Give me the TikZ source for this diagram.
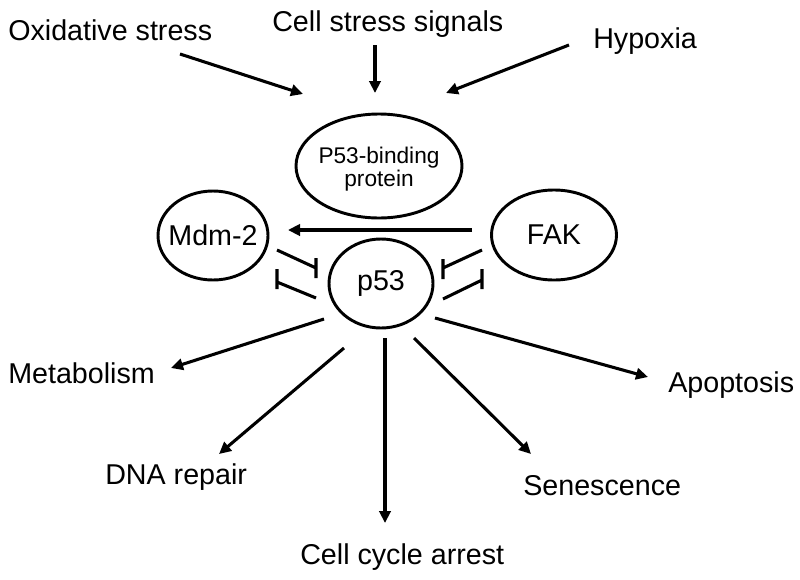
\documentclass[tikz,border=0pt]{standalone}
\usepackage{fontspec}
\setmainfont{Liberation Sans}
\usetikzlibrary{arrows.meta,shapes.geometric}
\begin{document}
\begin{tikzpicture}[x=0.75pt,y=-0.75pt,
  lbl/.style={font=\fontsize{21.5}{26}\selectfont, inner sep=0pt, anchor=base west},
  oval/.style={draw, ellipse, line width=2.2pt, inner sep=0pt},
  ovaltext/.style={font=\fontsize{21.5}{26}\selectfont, inner sep=0pt},
  arr/.style={line width=2.3pt, -{Triangle[length=9pt,width=8.5pt]}},
  inh/.style={line width=2.3pt},
]
\useasboundingbox (0,0) rectangle (800,579);
% ovals
\node[oval, minimum width=124.5pt, minimum height=78pt,
  label={[font=\fontsize{17}{17.5}\selectfont, align=center, inner sep=0pt, yshift=-2.5pt]center:{P53-binding\\protein}}] (pb) at (379,166) {};
\node[oval, minimum width=82.5pt, minimum height=66.75pt,
  label={[ovaltext]center:{Mdm-2}}] (mdm) at (213,235.5) {};
\node[oval, minimum width=93.75pt, minimum height=67.5pt,
  label={[ovaltext]center:{FAK}}] (fak) at (554,235) {};
\node[oval, minimum width=78pt, minimum height=66.75pt,
  label={[ovaltext]center:{p53}}] (p) at (381,283.5) {};
% texts
\node[lbl] (ox) at (8,40) {Oxidative stress};
\node[lbl] (cs) at (272,31) {Cell stress signals};
\node[lbl] (hy) at (593,48) {Hypoxia};
\node[lbl] (met) at (8,383) {Metabolism};
\node[lbl] (dna) at (105,484) {DNA repair};
\node[lbl] (cca) at (300,564) {Cell cycle arrest};
\node[lbl] (sen) at (523,495) {Senescence};
\node[lbl] (apo) at (668,392) {Apoptosis};
% coordinates
\coordinate (oxs) at (180,54);  \coordinate (oxe) at (303,94);
\coordinate (css) at (375,45);  \coordinate (cse) at (375,93);
\coordinate (hys) at (569,45);  \coordinate (hye) at (446,93);
\coordinate (fks) at (472,230); \coordinate (fke) at (288,230);
\coordinate (mets) at (324,319); \coordinate (mete) at (171,368);
\coordinate (dnas) at (344,348); \coordinate (dnae) at (219,454);
\coordinate (ccas) at (385,338); \coordinate (ccae) at (385,523);
\coordinate (sens) at (414,338); \coordinate (sene) at (531,454);
\coordinate (apos) at (435,318); \coordinate (apoe) at (648,377);
\coordinate (i1s) at (277,250); \coordinate (i1e) at (316,268);
\coordinate (i2s) at (316,298); \coordinate (i2e) at (277,282);
\coordinate (i3s) at (482,250); \coordinate (i3e) at (443,268);
\coordinate (i4s) at (443,299); \coordinate (i4e) at (482,280);
% arrows
\draw[arr] (oxs) -- (oxe);
\draw[arr] (css) -- (cse);
\draw[arr] (hys) -- (hye);
\draw[arr] (fks) -- (fke);
\draw[arr] (mets) -- (mete);
\draw[arr] (dnas) -- (dnae);
\draw[arr] (ccas) -- (ccae);
\draw[arr] (sens) -- (sene);
\draw[arr] (apos) -- (apoe);
% inhibitors
\draw[inh] (i1s) -- (i1e) ++(0,-10) -- ++(0,20);
\draw[inh] (i2s) -- (i2e) ++(0,-13) -- ++(0,20);
\draw[inh] (i3s) -- (i3e) ++(0,-9) -- ++(0,20);
\draw[inh] (i4s) -- (i4e) ++(0,-11) -- ++(0,20);
\end{tikzpicture}
\end{document}
